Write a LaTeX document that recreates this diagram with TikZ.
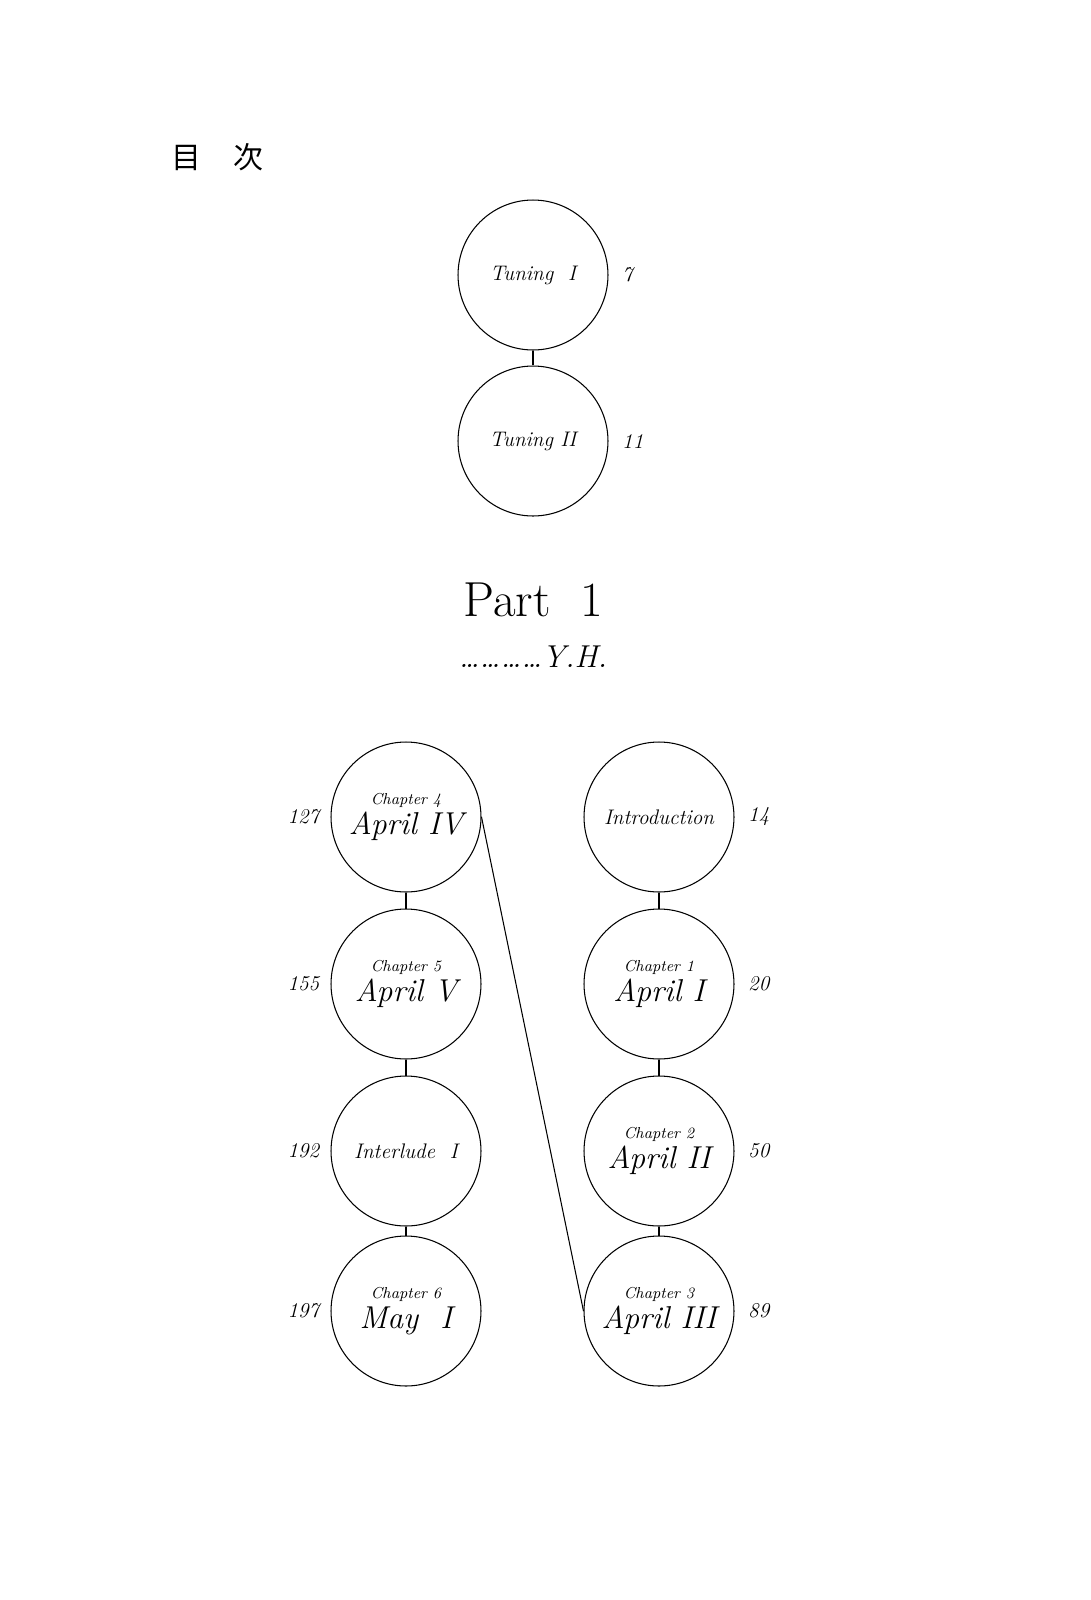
\documentclass[tikz,border=0pt]{standalone}
\usepackage{fontspec}
\newfontfamily\cjk{Noto Sans CJK JP}
\usetikzlibrary{positioning}

\tikzset{
  disc/.style={draw, circle, minimum size=3cm, inner sep=0pt, align=center, line width=0.6pt},
  num/.style={font=\itshape\fontsize{12}{14}\selectfont},
  link/.style={line width=0.6pt}
}
\newcommand{\chap}[2]{{\fontsize{9}{11}\selectfont #1}\\[2pt]{\fontsize{18}{20}\selectfont #2}}

\begin{document}
\begin{tikzpicture}[x=0.02cm, y=-0.02cm, font=\itshape]
\useasboundingbox (0,0) rectangle (1090,1600);

% title
\node[font=\cjk\fontsize{17}{20}\selectfont, anchor=west] (mokuji) at (165,157) {目\hspace{1.1em}次};

% tuning
\node[disc, font=\itshape\fontsize{12}{14}\selectfont] (t1) at (533,275) {Tuning\ \ I};
\node[disc, font=\itshape\fontsize{12}{14}\selectfont] (t2) at (533,441) {Tuning\ II};
\node[num, right=0.15cm of t1] (n7) {7};
\node[num, right=0.15cm of t2] (n11) {11};
\draw[link] (t1) -- (t2);

% part
\node[font=\upshape\fontsize{28}{30}\selectfont] (part) at (533,600) {Part\ \ 1};
\node[font=\itshape\fontsize{18}{20}\selectfont] (yh) at (533,657) {\dots\dots\dots\dots Y.H.};

% left column
\node[disc] (c4) at (406,817) {\chap{Chapter 4}{April IV}};
\node[disc] (c5) at (406,984) {\chap{Chapter 5}{April V}};
\node[disc, font=\itshape\fontsize{12}{14}\selectfont] (il) at (406,1151) {Interlude\ \ I};
\node[disc] (c6) at (406,1311) {\chap{Chapter 6}{May\ \ I}};
\node[num, left=0.1cm of c4] (n127) {127};
\node[num, left=0.1cm of c5] (n155) {155};
\node[num, left=0.1cm of il] (n192) {192};
\node[num, left=0.1cm of c6] (n197) {197};

% right column
\node[disc, font=\itshape\fontsize{12}{14}\selectfont] (in) at (659,817) {Introduction};
\node[disc] (c1) at (659,984) {\chap{Chapter 1}{April I}};
\node[disc] (c2) at (659,1151) {\chap{Chapter 2}{April II}};
\node[disc] (c3) at (659,1311) {\chap{Chapter 3}{April III}};
\node[num, right=0.15cm of in] (n14) {14};
\node[num, right=0.15cm of c1] (n20) {20};
\node[num, right=0.15cm of c2] (n50) {50};
\node[num, right=0.15cm of c3] (n89) {89};

\draw[link] (in) -- (c1);
\draw[link] (c1) -- (c2);
\draw[link] (c2) -- (c3);
\draw[link] (c3.west) -- (c4.east);
\draw[link] (c4) -- (c5);
\draw[link] (c5) -- (il);
\draw[link] (il) -- (c6);
\end{tikzpicture}
\end{document}
